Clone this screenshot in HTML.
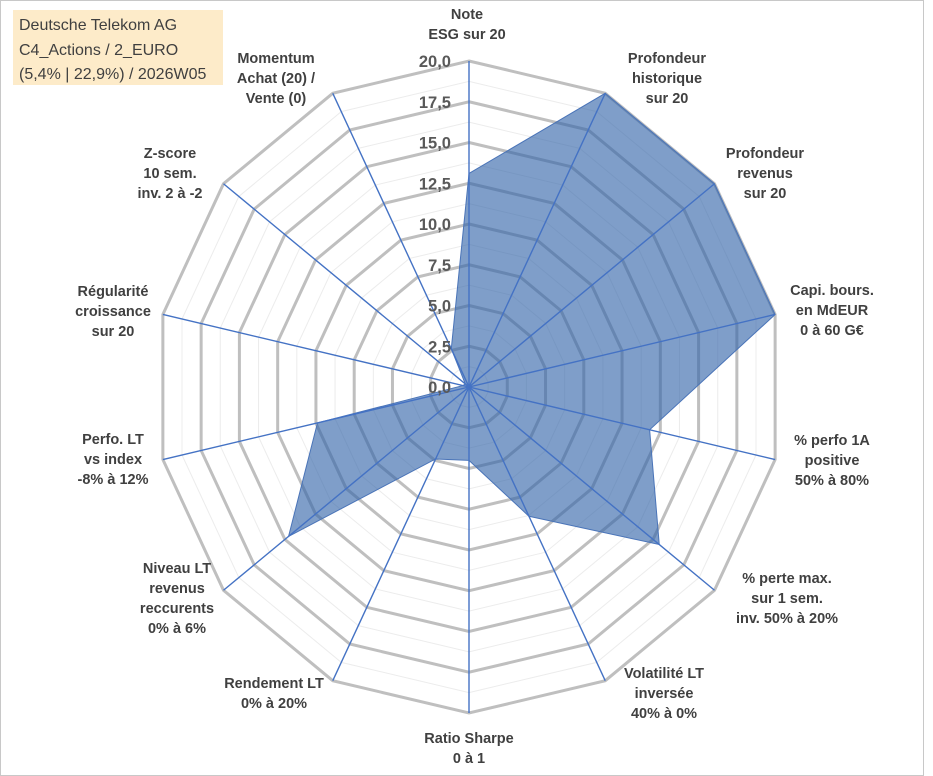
<!DOCTYPE html>
<html><head><meta charset="utf-8"><style>
body{margin:0;background:#fff;}
svg{display:block;font-family:"Liberation Sans",sans-serif;}
</style></head><body>
<svg id="chart" width="933" height="776">
<rect x="0.5" y="0.5" width="923" height="775" fill="#fff" stroke="#c8c8c8"/>
<rect x="13" y="10" width="210" height="75" fill="#fdebc9"/>
<g font-size="16" fill="#404040">
<text x="19" y="30">Deutsche Telekom AG</text>
<text x="19" y="55">C4_Actions / 2_EURO</text>
<text x="19" y="79">(5,4% | 22,9%) / 2026W05</text>
</g>
<g id="grid"></g><g id="series"></g><g id="spokes"></g><g id="ticks"></g><g id="labels"></g>
</svg>
<script>
const categories=["Note|ESG sur 20","Profondeur|historique|sur 20","Profondeur|revenus|sur 20","Capi. bours.|en MdEUR|0 à 60 G€","% perfo 1A|positive|50% à 80%","% perte max.|sur 1 sem.|inv. 50% à 20%","Volatilité LT|inversée|40% à 0%","Ratio Sharpe|0 à 1","Rendement LT|0% à 20%","Niveau LT|revenus|reccurents|0% à 6%","Perfo. LT|vs index|-8% à 12%","Régularité|croissance|sur 20","Z-score|10 sem.|inv. 2 à -2","Momentum|Achat (20) /|Vente (0)"];
const values=[13.1,20,20,20,11.8,15.5,8.8,4.5,4.9,14.7,9.9,0.4,0.3,2.6];
const tickLabels=["0,0","2,5","5,0","7,5","10,0","12,5","15,0","17,5","20,0"];
const labelPos=[[467,14],[667,58],[765,153],[832,290],[832,440],[787,578],[664,673],[469,738],[274,683],[177,568],[113,439],[113,291],[170,153],[276,58]];
const NS="http://www.w3.org/2000/svg";
const cx=469,cy=387,RX=314,RY=326,maxV=20,N=categories.length;
function pt(i,v){const a=i*2*Math.PI/N;const f=v/maxV;return [cx+f*RX*Math.sin(a),cy-f*RY*Math.cos(a)];}
function mk(tag,attrs,parent){const e=document.createElementNS(NS,tag);for(const k in attrs)e.setAttribute(k,attrs[k]);parent.appendChild(e);return e;}
const grid=document.getElementById('grid');
for(let k=1;k<=16;k++){const v=k*1.25;const pts=categories.map((c,i)=>pt(i,v).join(',')).join(' ');
const major=k%2===0;
const g=mk('polygon',{points:pts,fill:'none',stroke:major?'#bfbfbf':'#ececec','stroke-width':major?3:1},grid);

}
const ser=document.getElementById('series');
const poly=mk('polygon',{points:values.map((v,i)=>pt(i,v).join(',')).join(' '),fill:'rgb(48,98,168)','fill-opacity':0.62,stroke:'#4a74b8','stroke-width':1},ser);


const sp=document.getElementById('spokes');
categories.forEach((c,i)=>{const p=pt(i,maxV);const l=mk('line',{x1:cx,y1:cy,x2:p[0],y2:p[1],stroke:'#4472c4','stroke-width':1.4},sp);

});
const tk=document.getElementById('ticks');
tickLabels.forEach((t,k)=>{const y=cy-k*2.5/maxV*RY;const e=mk('text',{x:451,y:y+6,'text-anchor':'end','font-size':16.5,'font-weight':'bold',fill:'#595959'},tk);e.textContent=t;

});
const lb=document.getElementById('labels');
categories.forEach((c,i)=>{const lines=c.split('|');const g=mk('text',{'text-anchor':'middle','font-size':14.5,'font-weight':'bold',fill:'#404040'},lb);


lines.forEach((s,j)=>{const t=mk('tspan',{x:labelPos[i][0],y:labelPos[i][1]+j*20+5},g);t.textContent=s;});});
</script>
</body></html>
